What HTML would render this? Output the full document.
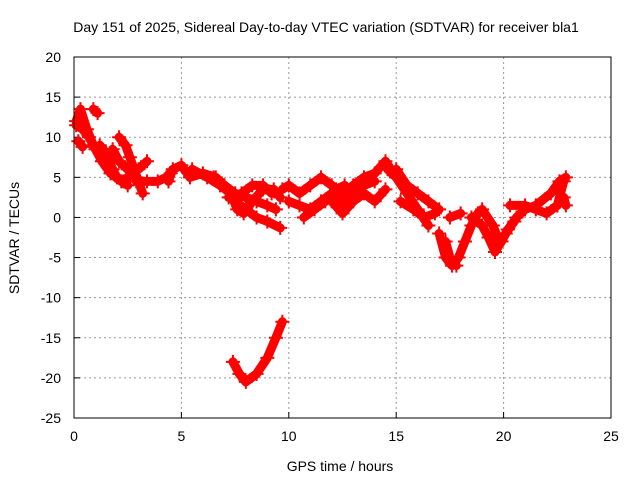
<!DOCTYPE html>
<html><head><meta charset="utf-8"><style>
body{margin:0;background:#fff}
svg{display:block;font-family:"Liberation Sans",sans-serif}
</style></head><body>
<svg id="chart" width="640" height="480" viewBox="0 0 640 480">
<rect width="640" height="480" fill="#fff"/>
<text x="326" y="32" text-anchor="middle" font-size="14">Day 151 of 2025, Sidereal Day-to-day VTEC variation (SDTVAR) for receiver bla1</text>
<text x="340" y="471" text-anchor="middle" font-size="14">GPS time / hours</text>
<text transform="translate(19,238) rotate(-90)" text-anchor="middle" font-size="14">SDTVAR / TECUs</text>
<g id="grid"></g>
<g id="ticks"></g>
<g id="marks"></g>
<rect x="74" y="57" width="537" height="361" fill="none" stroke="#000" stroke-width="1"/>
</svg>
<script>
const xTicks=[0,5,10,15,20,25];
const yTicks=[20,15,10,5,0,-5,-10,-15,-20,-25];
const trackA=[[0.1,12],[0.3,13.5],[0.6,11],[0.9,9],[1.3,7],[1.7,5.5],[2.2,4.5],[2.5,4]];
const trackB=[[0.1,11.5],[0.4,11],[0.7,10],[1.0,8.5]];
const trackC=[[0.2,9.5],[0.4,8.8]];
const trackD=[[0.9,13.5],[1.1,13]];
const trackE=[[1.2,9],[1.5,8],[1.8,6],[2.0,5],[2.3,4.5]];
const trackF=[[1.8,8.5],[2.1,7],[2.5,6],[2.9,5]];
const trackG=[[2.1,10],[2.4,9],[2.6,7.5],[2.8,6],[3.0,4.5],[3.2,3]];
const trackH=[[2.5,5],[3.0,6],[3.4,7]];
const trackI=[[2.9,4.5],[3.4,4.5],[3.9,4.5],[4.3,5],[4.5,5.5]];
const trackJ=[[4.4,4.5],[4.6,6],[5.0,6.5],[5.4,5],[6,5.5],[6.6,5],[7,4],[7.5,3],[8,2.5]];
const trackK=[[5.5,6],[6.2,5],[6.8,4],[7.3,3],[7.6,1],[7.9,0.5],[8.3,2],[8.8,3.5],[9.3,3.5],[9.6,2.5]];
const trackL=[[6.5,5],[7,4],[7.5,2],[8,1],[8.5,0],[9,-0.5],[9.6,-1.3]];
const trackM=[[7.2,2.5],[7.8,3],[8.3,4],[8.8,4],[9.2,3]];
const trackN=[[7.5,3],[8,2.5],[8.5,2],[9,1.5],[9.4,1]];
const trackO=[[9.7,3.5],[10,4],[10.5,3],[11,4],[11.5,5],[12,4],[12.5,3],[13,4],[13.5,5],[14,5.5],[14.5,7],[15,5]];
const trackP=[[10,2],[10.5,1.5],[11,1],[11.5,2],[12,3],[12.5,2],[13,3],[13.5,4],[14,4.5]];
const trackQ=[[10.7,0],[11.2,1],[11.7,2],[12.2,3.5],[12.6,4]];
const trackR=[[12,2],[12.5,0.5],[13,2],[13.5,3],[14,2],[14.5,3.5]];
const trackS=[[14.6,6],[15,5],[15.5,3],[16,1],[16.5,-1]];
const trackT=[[15,6],[15.5,4],[16,3],[16.5,2],[17,1]];
const trackU=[[15.2,2],[15.8,1],[16.3,0],[16.8,0.5]];
const trackV=[[17,-2],[17.3,-5],[17.6,-6],[17.9,-5],[18.2,-3],[18.5,-1],[18.8,0.5]];
const trackW=[[17.3,-3],[17.5,-5],[17.8,-6]];
const trackX=[[18.5,0],[19,-1],[19.3,-2.5],[19.6,-4.3],[19.9,-3],[20.2,-1.5],[20.5,-0.5]];
const trackY=[[17.5,0],[18,0.5]];
const trackZ=[[19,1],[19.5,-1],[19.8,-3],[20.1,-2],[20.6,0],[21,1]];
const trackAA=[[20.3,1.5],[21,1.5],[21.5,1],[22,0.5],[22.5,1.5],[22.8,4.5]];
const trackAB=[[21,1],[21.5,1.5],[22.2,3],[22.6,4.5],[22.9,5]];
const trackAC=[[22.5,1.5],[22.8,2.5],[22.9,1.5]];
const trackLow=[[7.4,-18],[7.7,-19.5],[8,-20.5],[8.5,-19.5],[9,-17.5],[9.4,-15],[9.7,-13]];
const tracks=[trackA,trackB,trackC,trackD,trackE,trackF,trackG,trackH,trackI,trackJ,trackK,trackL,trackM,trackN,trackO,trackP,trackQ,trackR,trackS,trackT,trackU,trackV,trackW,trackX,trackY,trackZ,trackAA,trackAB,trackAC,trackLow];

const NS="http://www.w3.org/2000/svg";
const X0=74,X1=611,Y0=418,Y1=57;
const xs=v=>X0+(v-0)/(25-0)*(X1-X0);
const ys=v=>Y0-(v+25)/(45)*(Y0-Y1);
function mk(tag,attrs,parent){const e=document.createElementNS(NS,tag);for(const k in attrs)e.setAttribute(k,attrs[k]);parent.appendChild(e);return e;}
const grid=document.getElementById('grid'),ticks=document.getElementById('ticks'),marks=document.getElementById('marks');
xTicks.forEach(t=>{
  const x=xs(t);
  if(t>0&&t<25){const g=mk('line',{x1:x,x2:x,y1:Y1,y2:Y0,stroke:'#999','stroke-dasharray':'2,3'},grid);
  
  }
  const tk=mk('line',{x1:x,x2:x,y1:Y0,y2:Y0-6,stroke:'#000'},ticks);
  
  
  const l=mk('text',{x:x,y:Y0+23,'text-anchor':'middle','font-size':'14'},ticks);l.textContent=t;
  
  
});
yTicks.forEach(t=>{
  const y=ys(t);
  if(t<20&&t>-25){const g=mk('line',{x1:X0,x2:X1,y1:y,y2:y,stroke:'#999','stroke-dasharray':'2,3'},grid);
  
  }
  const tk=mk('line',{x1:X0,x2:X0+6,y1:y,y2:y,stroke:'#000'},ticks);
  
  
  const l=mk('text',{x:X0-13,y:y+5,'text-anchor':'end','font-size':'14'},ticks);l.textContent=t;
  
  
});
tracks.forEach(tr=>{
  const p=mk('polyline',{points:tr.map(d=>xs(d[0])+','+ys(d[1])).join(' '),fill:'none',stroke:'#f00','stroke-width':'9','stroke-linejoin':'round','stroke-linecap':'round'},marks);
  
  
  tr.forEach(d=>{
    const x=xs(d[0]),y=ys(d[1]);
    const m=mk('path',{d:`M${x-7},${y}H${x+7}M${x},${y-7}V${y+7}`,stroke:'#f00','stroke-width':'2'},marks);
    
    
  });
});
</script>
</body></html>
